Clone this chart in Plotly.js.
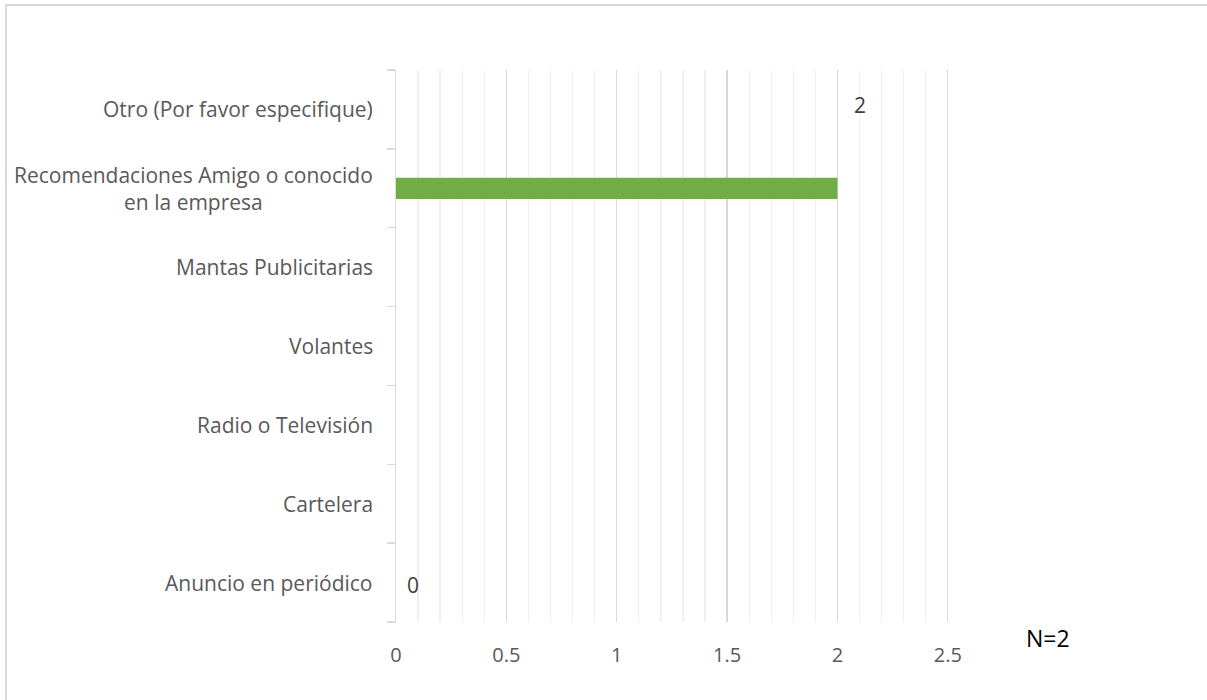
<!DOCTYPE html>
<html>
<head>
<meta charset="utf-8">
<script src="https://cdn.plot.ly/plotly-3.0.1.min.js"></script>
<style>
  html, body { margin: 0; padding: 0; background: #fff; }
  #chart { position: absolute; left: 0; top: 0; width: 1207px; height: 700px; }
  #frame { position: absolute; left: 5px; top: 4px; width: 1300px; height: 800px;
           border: 2px solid #d9d9d9; pointer-events: none; }
</style>
</head>
<body>
<div id="chart"></div>
<div id="frame"></div>
<script>
// Categories, bottom to top
const categories = [
  "Anuncio en periódico",
  "Cartelera",
  "Radio o Televisión",
  "Volantes",
  "Mantas Publicitarias",
  "Recomendaciones Amigo o conocido<br>en la empresa",
  "Otro (Por favor especifique)"
];
const values = [0, 0, 0, 0, 0, 2, 0];
// Data labels as shown in the picture: [value text, category it sits beside]
const dataLabels = [
  { text: "0", x: 0, cat: "Anuncio en periódico" },
  { text: "2", x: 2, cat: "Otro (Por favor especifique)" }
];
const xTickVals = [0, 0.5, 1, 1.5, 2, 2.5];
const xTickText = ["0", "0.5", "1", "1.5", "2", "2.5"];
const noteText = "N=2";

const FONT = "Open Sans, Noto Sans, sans-serif";

const trace = {
  type: "bar",
  orientation: "h",
  x: values,
  y: categories,
  marker: { color: "#70ad47" },
  width: 0.27,
  hoverinfo: "x+y"
};

const annotations = [];
// Category labels (centered multi-line, right-anchored to the axis)
categories.forEach(c => {
  annotations.push({
    xref: "paper", yref: "y", x: 0, y: c,
    text: c, showarrow: false, xanchor: "right", yanchor: "middle",
    align: "center", xshift: -21,
    font: { family: FONT, size: 21, color: "#595959" }
  });
});
dataLabels.forEach(d => {
  annotations.push({
    xref: "x", yref: "y", x: d.x, y: d.cat,
    text: d.text, showarrow: false, xanchor: "left", yanchor: "middle",
    xshift: d.x === 0 ? 9 : 15, yshift: d.x === 0 ? -2 : 4,
    font: { family: FONT, size: 21, color: "#404040" }
  });
});
annotations.push({
  xref: "paper", yref: "paper", x: 1, y: 0,
  text: noteText, showarrow: false, xanchor: "center", yanchor: "middle",
  xshift: 98, yshift: -16,
  font: { family: FONT, size: 23, color: "#000000" }
});

const layout = {
  width: 1207, height: 700,
  margin: { l: 396, r: 257, t: 70, b: 78 },
  paper_bgcolor: "#ffffff", plot_bgcolor: "#ffffff",
  showlegend: false,
  xaxis: {
    range: [0, 2.51],
    tickvals: xTickVals, ticktext: xTickText,
    showgrid: true, gridcolor: "#d9d9d9", gridwidth: 1.3,
    minor: { dtick: 0.1, showgrid: true, gridcolor: "#f0f0f0", gridwidth: 1.3, ticks: "" },
    zeroline: false, showline: false, ticks: "",
    ticklabelstandoff: 19,
    tickfont: { family: FONT, size: 20, color: "#595959" },
    fixedrange: true
  },
  yaxis: {
    type: "category",
    categoryorder: "array", categoryarray: categories,
    range: [-0.5, 6.5],
    showgrid: false, zeroline: false,
    showline: true, linecolor: "#d9d9d9", linewidth: 1.5,
    ticks: "outside", ticklen: 8, tickcolor: "#d9d9d9", tickwidth: 1.5,
    tickson: "boundaries",
    showticklabels: false,
    fixedrange: true
  },
  annotations: annotations
};

Plotly.newPlot("chart", [trace], layout, { displayModeBar: false, staticPlot: true });
</script>
</body>
</html>
